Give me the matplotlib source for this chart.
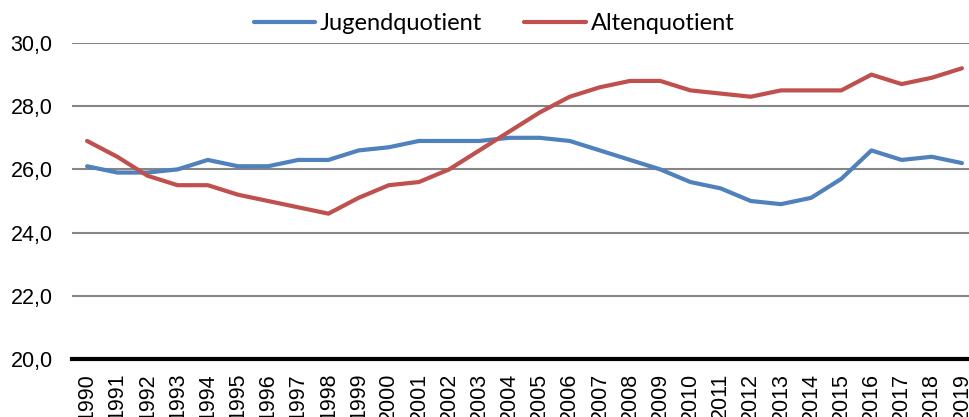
import matplotlib.pyplot as plt
import numpy as np

# Jahre und Quotienten
jahre = [str(j) for j in range(1990, 2020)]
jugendquotient = [26.1, 25.9, 25.9, 26.0, 26.3, 26.1, 26.1, 26.3, 26.3, 26.6,
                  26.7, 26.9, 26.9, 26.9, 27.0, 27.0, 26.9, 26.6, 26.3, 26.0,
                  25.6, 25.4, 25.0, 24.9, 25.1, 25.7, 26.6, 26.3, 26.4, 26.2]
altenquotient = [26.9, 26.4, 25.8, 25.5, 25.5, 25.2, 25.0, 24.8, 24.6, 25.1,
                 25.5, 25.6, 26.0, 26.6, 27.2, 27.8, 28.3, 28.6, 28.8, 28.8,
                 28.5, 28.4, 28.3, 28.5, 28.5, 28.5, 29.0, 28.7, 28.9, 29.2]
y_ticks = [20, 22, 24, 26, 28, 30]

fig = plt.figure(figsize=(9.70, 4.17), dpi=100)
ax = fig.add_axes([72 / 970, 1 - 359 / 417, 905 / 970, 316 / 417])

x = np.arange(len(jahre))
ax.plot(x, jugendquotient, color='#4F81BD', lw=3, label='Jugendquotient',
        solid_capstyle='round', solid_joinstyle='round', zorder=3)
ax.plot(x, altenquotient, color='#C0504D', lw=3, label='Altenquotient',
        solid_capstyle='round', solid_joinstyle='round', zorder=3)

ax.set_xlim(-0.5, len(jahre) - 0.5)
ax.set_ylim(20, 30)
ax.set_yticks(y_ticks)
ax.set_yticklabels([f'{v:.1f}'.replace('.', ',') for v in y_ticks],
                   family='Liberation Sans', fontsize=15.5)
ax.set_xticks(x)
ax.set_xticklabels(jahre, rotation=90, family='Liberation Sans', fontsize=15.5)
ax.tick_params(axis='both', length=0)
ax.tick_params(axis='y', pad=14)
ax.tick_params(axis='x', pad=10)

for v in y_ticks[1:]:
    ax.axhline(v, color='#868686', lw=1.5, zorder=1)
for s in ['top', 'right', 'left']:
    ax.spines[s].set_visible(False)
ax.spines['bottom'].set_linewidth(3)
ax.spines['bottom'].set_color('black')

leg = fig.legend(loc='upper center', bbox_to_anchor=(494 / 970, 1.02), ncol=2,
                 frameon=False, prop={'family': 'Lato', 'size': 17},
                 handlelength=2.6, handletextpad=0.2, columnspacing=1.8)

fig.savefig('out.png', dpi=100)
